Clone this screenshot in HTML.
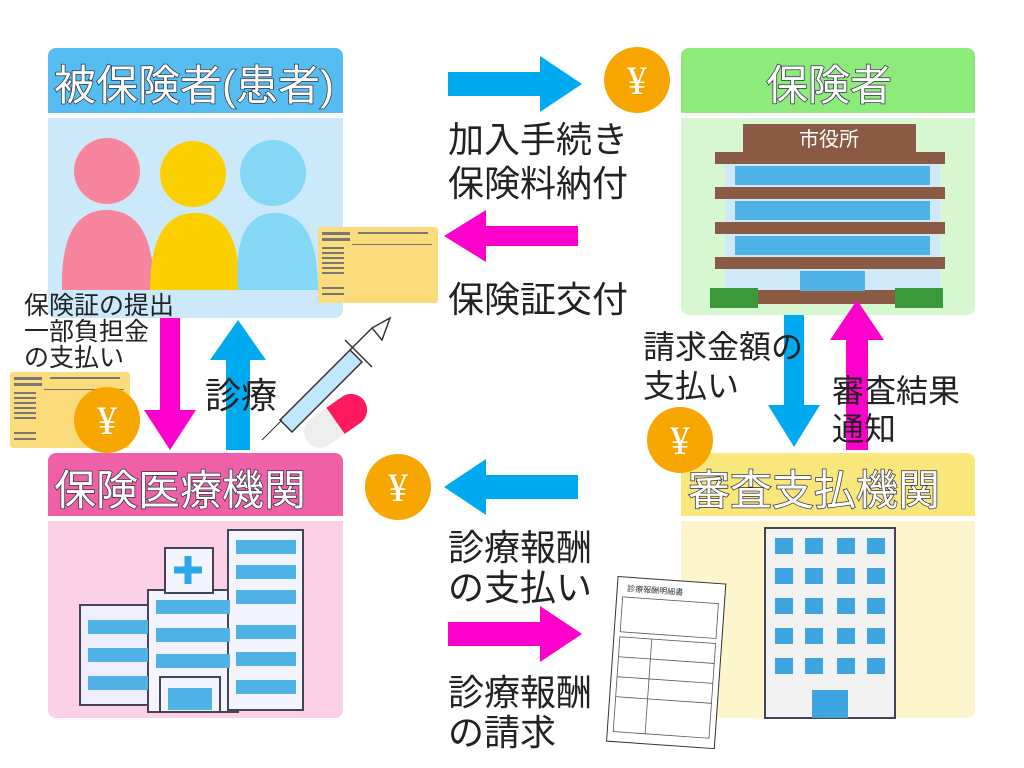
<!DOCTYPE html>
<html><head><meta charset="utf-8"><style>
body{margin:0;background:#fff}
svg{display:block}
text{font-family:"Liberation Sans","Noto Sans CJK JP",sans-serif}
.h{font-size:42px;fill:#fff;stroke:#334;stroke-width:1.5px;paint-order:stroke}
.t{font-size:36px;fill:#222}
.s{font-size:25px;fill:#222}
.y{font-size:40px;fill:#fff;font-family:"Liberation Serif",serif}
</style></head><body>
<svg width="1024" height="768" viewBox="0 0 1024 768">
<defs>
<g id="yen"><circle r="33" fill="#f7a600"/><text y="14" text-anchor="middle" class="y">¥</text></g>
<g id="card"><rect width="120" height="76" rx="3" fill="#fbdc7c"/>
<g fill="#777" font-size="5"><rect x="4" y="5" width="28" height="3"/><rect x="4" y="11" width="28" height="3"/>
<rect x="4" y="20" width="22" height="2"/><rect x="4" y="25" width="22" height="2"/><rect x="4" y="30" width="22" height="2"/><rect x="4" y="35" width="22" height="2"/><rect x="4" y="40" width="22" height="2"/><rect x="4" y="45" width="22" height="2"/><rect x="4" y="60" width="22" height="2"/><rect x="4" y="66" width="22" height="2"/>
<rect x="40" y="5" width="70" height="2"/><rect x="34" y="17" width="80" height="1"/></g></g>
</defs>
<rect x="48" y="48" width="295" height="270" rx="8" fill="#cbe9fa"/>
<path d="M48 113V56a8 8 0 0 1 8-8h279a8 8 0 0 1 8 8v57z" fill="#55bdf2"/>
<rect x="48" y="113" width="295" height="5" fill="#fff"/>
<text x="54" y="100" class="h">被保険者(患者)</text>
<circle cx="107" cy="171" r="33" fill="#f7859e"/>
<path d="M62 290 Q60 210 107 210 Q154 210 154 290Z" fill="#f7859e"/>
<circle cx="193" cy="174" r="33" fill="#fccf00"/>
<path d="M150 290 Q150 213 195 213 Q240 213 240 290Z" fill="#fccf00"/>
<circle cx="273" cy="173" r="33" fill="#84d8f5"/>
<path d="M238 290 Q232 213 275 213 Q318 213 318 290Z" fill="#84d8f5"/>
<use href="#card" x="318" y="227"/>
<rect x="681" y="48" width="294" height="267" rx="8" fill="#d6f7cf"/>
<path d="M681 113V56a8 8 0 0 1 8-8h278a8 8 0 0 1 8 8v57z" fill="#8ceb7b"/>
<rect x="681" y="113" width="294" height="5" fill="#fff"/>
<text x="766" y="100" class="h">保険者</text>
<rect x="743" y="124" width="173" height="28" fill="#8b5a44"/>
<text x="829" y="146" text-anchor="middle" font-size="20" fill="#fff">市役所</text>
<rect x="725" y="152" width="215" height="150" fill="#cfe9f9"/>
<g fill="#8b5a44"><rect x="715" y="152" width="230" height="12"/><rect x="715" y="187" width="230" height="12"/><rect x="715" y="222" width="230" height="12"/><rect x="715" y="257" width="230" height="12"/><rect x="725" y="290" width="215" height="14"/></g>
<g fill="#4fb3e8"><rect x="735" y="166" width="195" height="19"/><rect x="735" y="201" width="195" height="19"/><rect x="735" y="236" width="195" height="19"/><rect x="800" y="271" width="65" height="20"/></g>
<rect x="710" y="288" width="48" height="20" fill="#3a9a3a"/><rect x="895" y="288" width="48" height="20" fill="#3a9a3a"/>
<rect x="48" y="453" width="295" height="265" rx="8" fill="#fcd0e6"/>
<path d="M48 516V461a8 8 0 0 1 8-8h279a8 8 0 0 1 8 8v55z" fill="#f060a8"/>
<rect x="48" y="516" width="295" height="5" fill="#fff"/>
<text x="54" y="505" class="h">保険医療機関</text>
<g stroke="#445" stroke-width="2">
<rect x="80" y="605" width="80" height="100" fill="#eef"/>
<rect x="148" y="590" width="90" height="122" fill="#f4f4ff"/>
<rect x="165" y="548" width="48" height="45" fill="#f4f4ff"/>
<rect x="228" y="530" width="75" height="180" fill="#f4f4ff"/>
<rect x="160" y="677" width="60" height="35" fill="#f4f4ff"/></g>
<path d="M188 556v28M174 570h28" stroke="#2aa8e8" stroke-width="7"/>
<g fill="#4fb3e8">
<rect x="88" y="620" width="60" height="14"/><rect x="88" y="648" width="60" height="14"/><rect x="88" y="676" width="60" height="14"/>
<rect x="156" y="600" width="74" height="14"/><rect x="156" y="628" width="74" height="14"/><rect x="156" y="654" width="74" height="14"/>
<rect x="236" y="540" width="60" height="14"/><rect x="236" y="565" width="60" height="14"/><rect x="236" y="590" width="60" height="14"/><rect x="236" y="625" width="60" height="14"/><rect x="236" y="652" width="60" height="14"/><rect x="236" y="680" width="60" height="14"/><rect x="168" y="688" width="44" height="22"/></g>
<rect x="681" y="453" width="294" height="265" rx="8" fill="#fdf5cb"/>
<path d="M681 516V461a8 8 0 0 1 8-8h278a8 8 0 0 1 8 8v55z" fill="#fae77c"/>
<rect x="681" y="516" width="294" height="5" fill="#fff"/>
<text x="688" y="505" class="h">審査支払機関</text>
<rect x="765" y="528" width="130" height="190" fill="#f2f2f2" stroke="#445" stroke-width="2"/>
<g fill="#3ea5e0">
<rect x="775" y="538" width="18" height="16"/><rect x="805" y="538" width="18" height="16"/><rect x="837" y="538" width="18" height="16"/><rect x="867" y="538" width="18" height="16"/>
<rect x="775" y="568" width="18" height="16"/><rect x="805" y="568" width="18" height="16"/><rect x="837" y="568" width="18" height="16"/><rect x="867" y="568" width="18" height="16"/>
<rect x="775" y="598" width="18" height="16"/><rect x="805" y="598" width="18" height="16"/><rect x="837" y="598" width="18" height="16"/><rect x="867" y="598" width="18" height="16"/>
<rect x="775" y="628" width="18" height="16"/><rect x="805" y="628" width="18" height="16"/><rect x="837" y="628" width="18" height="16"/><rect x="867" y="628" width="18" height="16"/>
<rect x="775" y="658" width="18" height="16"/><rect x="805" y="658" width="18" height="16"/><rect x="837" y="658" width="18" height="16"/><rect x="867" y="658" width="18" height="16"/>
<rect x="812" y="690" width="36" height="28"/></g>
<g transform="rotate(4 665 665)"><rect x="612" y="580" width="108" height="165" fill="#fff" stroke="#333"/>
<text x="622" y="594" font-size="8" fill="#333">診療報酬明細書</text>
<g stroke="#555" fill="none" stroke-width="0.8"><rect x="618" y="600" width="96" height="35"/><rect x="618" y="640" width="96" height="95"/><path d="M650 640v95M618 660h96M618 680h96M618 700h96"/></g></g>
<g fill="#00aaf0">
<path d="M448 72h92v-16l42 28-42 28v-16h-92z"/>
<path d="M578 475h-92v-16l-42 28 42 28v-16h92z"/>
<path d="M784 315h20v90h16l-26 42-26-42h16z"/>
<path d="M226 450h24V360h16l-28-40-28 40h16z"/>
</g>
<g fill="#ff00cc">
<path d="M578 226h-92v-16l-42 26 42 26v-16h92z"/>
<path d="M448 622h92v-16l42 28-42 28v-16h-92z"/>
<path d="M846 450h22V340h16l-27-40-27 40h16z"/>
<path d="M160 318h20v92h16l-26 40-26-40h16z"/>
</g>
<g stroke="#333" stroke-width="1.5" fill="#fff">
<path d="M280 420 L350 350 L362 362 L292 432Z" fill="#bfe6fa"/>
<path d="M345 340 L372 367M350 350 L372 328M372 328l18-10-8 22z"/>
</g>
<path d="M282 420 L262 440" stroke="#333"/>
<g transform="rotate(-35 335 420)"><rect x="300" y="405" width="70" height="32" rx="16" fill="#eee"/><path d="M335 405h19a16 16 0 0 1 0 32h-19z" fill="#ff1a60"/></g>
<use href="#card" x="10" y="372"/>
<use href="#yen" x="637" y="80"/>
<use href="#yen" x="107" y="420"/>
<use href="#yen" x="398" y="487"/>
<use href="#yen" x="680" y="440"/>
<text class="t" x="448" y="152">加入手続き</text>
<text class="t" x="448" y="196">保険料納付</text>
<text class="t" x="448" y="312">保険証交付</text>
<text class="t" x="643" y="358" style="font-size:32px">請求金額の</text>
<text class="t" x="643" y="397" style="font-size:32px">支払い</text>
<text class="t" x="832" y="402" style="font-size:32px">審査結果</text>
<text class="t" x="832" y="440" style="font-size:32px">通知</text>
<text class="t" x="448" y="560">診療報酬</text>
<text class="t" x="448" y="600">の支払い</text>
<text class="t" x="448" y="705">診療報酬</text>
<text class="t" x="448" y="745">の請求</text>
<text class="t" x="205" y="408">診療</text>
<text class="s" x="24" y="314">保険証の提出</text>
<text class="s" x="24" y="340">一部負担金</text>
<text class="s" x="24" y="366">の支払い</text>
</svg>
</body></html>
